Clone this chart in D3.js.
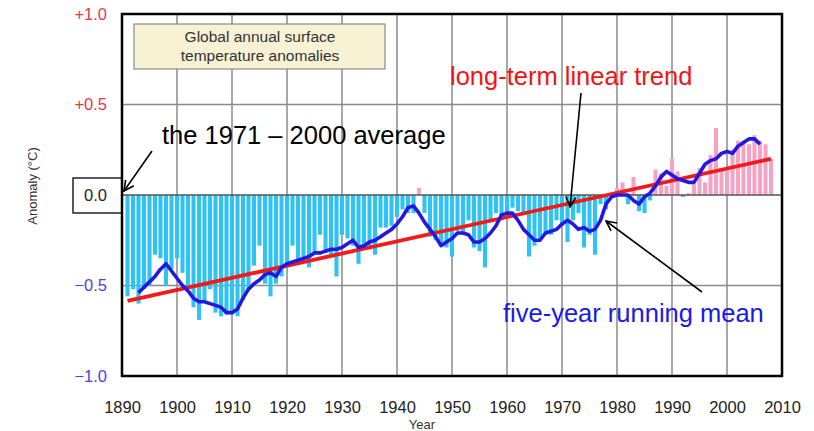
<!DOCTYPE html>
<html>
<head>
<meta http-equiv="Content-Type" content="text/html;charset=utf-8" />
<style type="text/css">
  body { margin: 0; background: #fff; }
  text { font-family: Arial, "Liberation Sans", sans-serif; }
</style>
</head>
<body>
<div id="svgContainer"></div>
<script src="https://d3js.org/d3.v7.min.js"></script>
<script type="text/javascript">
// annual anomalies (°C, vs 1971-2000), one per year from 1891
var firstYear = 1891;
var anomalies = [
  -0.56, -0.52, -0.60, -0.52, -0.50, -0.33, -0.35, -0.50, -0.41, -0.35, // 1891-1900
  -0.43, -0.52, -0.62, -0.69, -0.58, -0.52, -0.65, -0.67, -0.66, -0.66, // 1901-1910
  -0.67, -0.58, -0.52, -0.39, -0.28, -0.49, -0.56, -0.49, -0.45, -0.40, // 1911-1920
  -0.28, -0.38, -0.37, -0.40, -0.33, -0.22, -0.32, -0.33, -0.45, -0.22, // 1921-1930
  -0.24, -0.28, -0.38, -0.28, -0.30, -0.33, -0.18, -0.18, -0.17, -0.12, // 1931-1940
  -0.08, -0.10, -0.10,  0.04, -0.10, -0.23, -0.25, -0.27, -0.29, -0.34, // 1941-1950
  -0.20, -0.22, -0.14, -0.29, -0.31, -0.40, -0.15, -0.10, -0.14, -0.13, // 1951-1960
  -0.07, -0.09, -0.10, -0.34, -0.28, -0.24, -0.22, -0.22, -0.14, -0.17, // 1961-1970
  -0.26, -0.14, -0.10, -0.29, -0.22, -0.33, -0.05, -0.08,  0.01,  0.04, // 1971-1980
   0.07, -0.05,  0.10, -0.09, -0.10, -0.03,  0.14,  0.12,  0.05,  0.20, // 1981-1990
   0.13, -0.01,  0.01,  0.06,  0.15,  0.07,  0.22,  0.37,  0.15,  0.14, // 1991-2000
   0.25,  0.30,  0.30,  0.28,  0.33,  0.30,  0.28,  0.20               // 2001-2008
];

// five-year running mean, one per year from 1893
var meanFirstYear = 1893;
var runningMean = [
  -0.54, -0.51, -0.48, -0.45, -0.41, -0.38, -0.42, -0.46,               // 1893-1900
  -0.50, -0.53, -0.57, -0.59, -0.59, -0.60, -0.61, -0.62, -0.65, -0.65, // 1901-1910
  -0.63, -0.57, -0.52, -0.49, -0.47, -0.44, -0.43, -0.45, -0.40, -0.38, // 1911-1920
  -0.37, -0.36, -0.35, -0.34, -0.32, -0.32, -0.31, -0.30, -0.30, -0.29, // 1921-1930
  -0.27, -0.25, -0.29, -0.28, -0.26, -0.25, -0.23, -0.21, -0.19, -0.16, // 1931-1940
  -0.12, -0.07, -0.06, -0.10, -0.15, -0.19, -0.23, -0.28, -0.26, -0.24, // 1941-1950
  -0.21, -0.21, -0.22, -0.26, -0.26, -0.24, -0.21, -0.17, -0.11, -0.10, // 1951-1960
  -0.10, -0.14, -0.19, -0.22, -0.25, -0.25, -0.21, -0.20, -0.19, -0.16, // 1961-1970
  -0.14, -0.16, -0.19, -0.18, -0.20, -0.19, -0.14, -0.05, -0.01,  0.00, // 1971-1980
   0.00,  0.00, -0.03, -0.05, -0.01,  0.01,  0.05,  0.10,  0.13,  0.11, // 1981-1990
   0.09,  0.08,  0.07,  0.07,  0.12,  0.17,  0.19,  0.20,  0.23,  0.24, // 1991-2000
   0.23,  0.27,  0.29,  0.31,  0.31,  0.28                              // 2001-2006
];

// linear trend end points
var trendYears = [1891, 2008];
var trendValues = [-0.585, 0.20];

var xTicks = d3.range(1890, 2011, 10);
var yTicks = [1.0, 0.5, 0.0, -0.5, -1.0];
var yTickLabels = ["+1.0", "+0.5", "0.0", "\u22120.5", "\u22121.0"];
var yTickColors = ["#e8364f", "#e8364f", "#222", "#4b3fe0", "#4b3fe0"];

var w = 814, h = 431;
var svg = d3.select("#svgContainer")
  .append("svg")
  .attr("width", w)
  .attr("height", h);

var xScale = d3.scaleLinear().domain([1890, 2010]).range([122, 782]);
var yScale = d3.scaleLinear().domain([-1, 1]).range([376, 14]);

var defs = svg.append("defs");
defs.append("marker")
  .attr("id", "arrow")
  .attr("viewBox", "0 0 12 12")
  .attr("refX", 11).attr("refY", 6)
  .attr("markerWidth", 12).attr("markerHeight", 12)
  .attr("markerUnits", "userSpaceOnUse")
  .attr("orient", "auto")
  .append("path")
  .attr("d", "M1,1 L11,6 L1,11")
  .attr("fill", "none")
  .attr("stroke", "#000")
  .attr("stroke-width", 1.6);

// grid
var grid = svg.append("g");
grid.selectAll(".vg")
  .data(xTicks.slice(1, -1))
  .enter().append("line")
  .attr("x1", d => xScale(d)).attr("x2", d => xScale(d))
  .attr("y1", yScale(1)).attr("y2", yScale(-1))
  .attr("stroke", "#8a8a8a").attr("stroke-width", 1.5);
grid.selectAll(".hg")
  .data([0.5, -0.5])
  .enter().append("line")
  .attr("x1", xScale(1890)).attr("x2", xScale(2010))
  .attr("y1", d => yScale(d)).attr("y2", d => yScale(d))
  .attr("stroke", "#8a8a8a").attr("stroke-width", 1.5);

// bars
var barData = anomalies.map((v, i) => ({ year: firstYear + i, value: v }));
var step = xScale(1) - xScale(0);
var barW = step - 1.4;
svg.append("g").selectAll("rect")
  .data(barData)
  .enter().append("rect")
  .attr("x", d => xScale(d.year) - barW / 2)
  .attr("width", barW)
  .attr("y", d => yScale(Math.max(0, d.value)))
  .attr("height", d => Math.abs(yScale(d.value) - yScale(0)))
  .attr("fill", d => d.value >= 0 ? "#f5a3c4" : "#2ec3f2");

// zero line
svg.append("line")
  .attr("x1", xScale(1890)).attr("x2", xScale(2010))
  .attr("y1", yScale(0)).attr("y2", yScale(0))
  .attr("stroke", "#555").attr("stroke-width", 1.5);

// trend
var line = d3.line()
  .x(d => xScale(d[0]))
  .y(d => yScale(d[1]));

svg.append("path")
  .attr("d", line(trendYears.map((y, i) => [y, trendValues[i]])))
  .attr("stroke", "#f21b1b")
  .attr("stroke-width", 3.8)
  .attr("fill", "none");

// running mean
svg.append("path")
  .attr("d", line(runningMean.map((v, i) => [meanFirstYear + i, v])))
  .attr("stroke", "#2418e0")
  .attr("stroke-width", 3.6)
  .attr("stroke-linejoin", "round")
  .attr("fill", "none");

// frame
svg.append("rect")
  .attr("x", xScale(1890)).attr("y", yScale(1))
  .attr("width", xScale(2010) - xScale(1890))
  .attr("height", yScale(-1) - yScale(1))
  .attr("fill", "none")
  .attr("stroke", "#000")
  .attr("stroke-width", 2.5);

// title box
svg.append("rect")
  .attr("x", 134).attr("y", 24)
  .attr("width", 251).attr("height", 45)
  .attr("fill", "#f8f1d4")
  .attr("stroke", "#8a8a8a")
  .attr("stroke-width", 1.2);
svg.append("text")
  .attr("x", 260).attr("y", 41.5)
  .attr("text-anchor", "middle")
  .attr("font-size", 15.5).attr("fill", "#333")
  .text("Global annual surface");
svg.append("text")
  .attr("x", 260).attr("y", 60.5)
  .attr("text-anchor", "middle")
  .attr("font-size", 15.5).attr("fill", "#333")
  .text("temperature anomalies");

// x axis
var xAxis = d3.axisBottom(xScale)
  .tickValues(xTicks)
  .tickFormat(d3.format("d"))
  .tickSize(0)
  .tickPadding(0);
var gx = svg.append("g")
  .attr("transform", "translate(0,401)")
  .call(xAxis);
gx.select(".domain").remove();
gx.selectAll("text")
  .attr("font-size", 16.5)
  .attr("fill", "#222")
  .attr("font-family", "Arial, 'Liberation Sans', sans-serif");

svg.append("text")
  .attr("x", 422).attr("y", 429)
  .attr("text-anchor", "middle")
  .attr("font-size", 13).attr("fill", "#333")
  .text("Year");

// y axis
var yAxis = d3.axisLeft(yScale)
  .tickValues(yTicks)
  .tickFormat((d, i) => yTickLabels[i])
  .tickSize(0)
  .tickPadding(0);
var gy = svg.append("g")
  .attr("transform", "translate(107,0)")
  .call(yAxis);
gy.select(".domain").remove();
gy.selectAll("text")
  .attr("font-size", 16.5)
  .attr("fill", (d, i) => yTickColors[i])
  .attr("font-family", "Arial, 'Liberation Sans', sans-serif");

// box around 0.0
svg.append("rect")
  .attr("x", 73).attr("y", yScale(0) - 17)
  .attr("width", xScale(1890) - 73).attr("height", 35)
  .attr("fill", "none")
  .attr("stroke", "#000")
  .attr("stroke-width", 1.3);

svg.append("text")
  .attr("transform", "translate(37," + yScale(0.05) + ") rotate(-90)")
  .attr("text-anchor", "middle")
  .attr("font-size", 13).attr("fill", "#333")
  .text("Anomaly (\u00B0C)");

// annotations
svg.append("text")
  .attr("x", 162).attr("y", 144)
  .attr("font-size", 25.5).attr("fill", "#000")
  .text("the 1971 \u2013 2000 average");
svg.append("line")
  .attr("x1", 152).attr("y1", 151)
  .attr("x2", xScale(1890) + 2).attr("y2", yScale(0) - 4)
  .attr("stroke", "#000").attr("stroke-width", 1.6)
  .attr("marker-end", "url(#arrow)");

svg.append("text")
  .attr("x", 450).attr("y", 85)
  .attr("font-size", 25.5).attr("fill", "#f01414")
  .text("long-term linear trend");
svg.append("line")
  .attr("x1", 581).attr("y1", 93)
  .attr("x2", 570).attr("y2", 207)
  .attr("stroke", "#000").attr("stroke-width", 1.6)
  .attr("marker-end", "url(#arrow)");

svg.append("text")
  .attr("x", 503).attr("y", 322)
  .attr("font-size", 25.5).attr("fill", "#1a1ae6")
  .text("five-year running mean");
svg.append("line")
  .attr("x1", 702).attr("y1", 292)
  .attr("x2", 606).attr("y2", 221)
  .attr("stroke", "#000").attr("stroke-width", 1.6)
  .attr("marker-end", "url(#arrow)");
</script>
</body>
</html>
